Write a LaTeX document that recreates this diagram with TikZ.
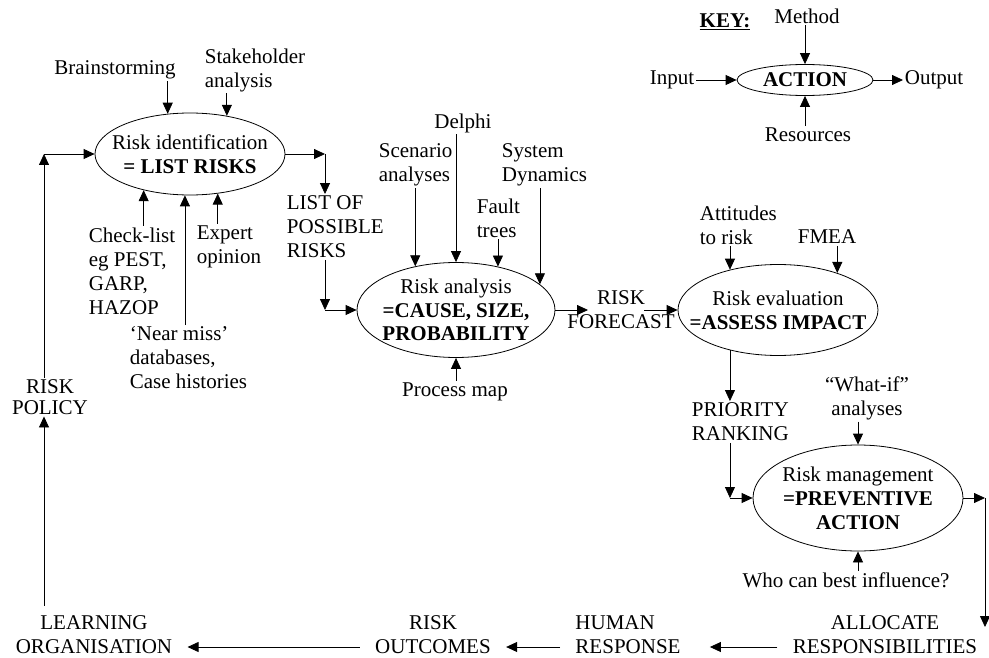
\documentclass[tikz,border=0pt]{standalone}
\usepackage{fontspec}
\setmainfont{Liberation Serif}
\usetikzlibrary{shapes.geometric, arrows.meta}

\begin{document}
\begin{tikzpicture}[x=1pt, y=-1pt, line width=0.8pt,
        >={Triangle[length=11pt, width=10pt]},
        txt/.style={inner sep=1.5pt, align=left, font=\fontsize{21}{24}\selectfont},
        stage/.style={draw, ellipse, inner sep=0pt},
        row/.style={txt, align=center, inner xsep=15pt, inner ysep=10pt}]
                \useasboundingbox (0, 0) rectangle (989, 658);
                % Corners of the connectors
                \path (44, 154) coordinate (loop);
                \path (325, 154) coordinate (c1);
                \path (325, 310) coordinate (c2);
                \path (588, 310) coordinate (fcin);
                \path (644, 310) coordinate (fcout);
                \path (985, 498) coordinate (rmout);
                \path (985, 627) coordinate (rmend);

                % Key
                \node[txt] (key) at (725, 22) {\underline{\textbf{KEY:}}};
                \node[stage, minimum width=136pt, minimum height=31pt] (act) at (805, 80) {};
                \node[txt] (acttext) at (act) {\textbf{ACTION}};
                \node[txt] (method) at (807, 16) {Method};
                \node[txt] (input) at (672, 80) {Input};
                \node[txt, anchor=west] (output) at (903, 80) {Output};
                \node[txt] (resources) at (808, 135) {Resources};
                \draw[->] (act.north |- method.south) -- (act.north);
                \draw[->] (input.east) -- (act.west);
                \draw[->] (act.east) -- (output.west);
                \draw[->] (resources.north -| act.south) -- (act.south);

                % Risk identification
                \node[stage, minimum width=190pt, minimum height=82pt] (rid) at (190, 154) {};
                \node[txt, align=center] (ridtext) at (rid) {Risk identification\\\textbf{= LIST RISKS}};
                \node[txt] (brain) at (115, 70) {Brainstorming};
                \node[txt, anchor=west] (stake) at (203, 70) {Stakeholder\\analysis};
                \node[txt, anchor=west] (check) at (87, 271) {Check-list\\eg PEST,\\GARP,\\HAZOP};
                \node[txt, anchor=west] (expert) at (195, 247) {Expert\\opinion};
                \node[txt, anchor=west] (nearmiss) at (128, 358) {‘Near miss’\\databases,\\Case histories};
                \draw[->] (rid.119 |- brain.south) -- (rid.119);
                \draw[->] (rid.46 |- stake.south) -- (rid.46);
                \draw[->] (rid.-142 |- check.north) -- (rid.-142);
                \draw[->] (rid.-97 |- nearmiss.north) -- (rid.-97);
                \draw[->] (rid.-55 |- expert.north) -- (rid.-55);

                % Risk policy loop
                \node[txt, align=center, font=\fontsize{21}{21}\selectfont] (policy) at (50, 397) {RISK\\POLICY};
                \draw[->] (policy.north -| loop) -- (loop);
                \draw[->] (loop) -- (rid.west);

                % List of possible risks
                \node[txt, anchor=west] (possible) at (285, 227) {LIST OF\\POSSIBLE\\RISKS};
                \draw[->] (rid.east) -- (c1);
                \draw[->] (c1) -- (c1 |- possible.north);
                \draw[->] (c1 |- possible.south) -- (c2);

                % Risk analysis
                \node[stage, minimum width=198pt, minimum height=95pt] (ra) at (456, 310) {};
                \node[txt, align=center, font=\fontsize{21}{23.5}\selectfont] (ratext) at (ra) {Risk analysis\\\textbf{=CAUSE, SIZE,}\\\textbf{PROBABILITY}};
                \node[txt] (delphi) at (463, 123) {Delphi};
                \node[txt, anchor=west] (scenario) at (377, 165) {Scenario\\analyses};
                \node[txt, anchor=west] (fault) at (475, 218) {Fault\\trees};
                \node[txt, anchor=west] (sysdyn) at (500, 165) {System\\Dynamics};
                \node[txt] (process) at (455, 392) {Process map};
                \draw[->] (c2) -- (ra.west);
                \draw[->] (ra.133 |- scenario.south) -- (ra.133);
                \draw[->] (ra.north |- delphi.south) -- (ra.north);
                \draw[->] (ra.46 |- fault.south) -- (ra.46);
                \draw[->] (ra.17 |- sysdyn.south) -- (ra.17);
                \draw[->] (process.north -| ra.south) -- (ra.south);

                % Risk forecast
                \node[txt, align=center] (forecast) at (621, 310) {RISK\\FORECAST};
                \draw[->] (ra.east) -- (fcin);

                % Risk evaluation
                \node[stage, minimum width=200pt, minimum height=91pt] (rev) at (778, 310) {};
                \node[txt, align=center] (revtext) at (rev) {Risk evaluation\\\textbf{=ASSESS IMPACT}};
                \node[txt, anchor=west] (attitudes) at (698, 225) {Attitudes\\to risk};
                \node[txt] (fmea) at (827, 237) {FMEA};
                \draw[->] (fcout) -- (rev.west);
                \draw[->] (rev.140 |- attitudes.south) -- (rev.140);
                \draw[->] (rev.32 |- fmea.south) -- (rev.32);

                % Risk management
                \node[stage, minimum width=210pt, minimum height=106pt] (rm) at (858, 498) {};
                \node[txt, align=center] (rmtext) at (rm) {Risk management\\\textbf{=PREVENTIVE}\\\textbf{ACTION}};
                \node[txt, align=center] (whatif) at (867, 398) {“What-if”\\analyses};
                \node[txt] (whoinfl) at (846, 580) {Who can best influence?};
                \draw[->] (rm.north |- whatif.south) -- (rm.north);
                \draw[->] (whoinfl.north -| rm.south) -- (rm.south);
                \draw[->] (rm.east) -- (rmout);
                \draw[->] (rmout) -- (rmend);

                % Priority ranking
                \node[txt, anchor=west] (priority) at (690, 422) {PRIORITY\\RANKING};
                \draw[->] (rev.-140) -- (rev.-140 |- priority.north);
                \draw[->] (rev.-140 |- priority.south) -- (rev.-140 |- rm.west);
                \draw[->] (rev.-140 |- rm.west) -- (rm.west);

                % Bottom row
                \node[row] (allocate) at (885, 635) {ALLOCATE\\RESPONSIBILITIES};
                \node[row, align=left] (human) at (628, 635) {HUMAN\\RESPONSE};
                \node[row] (outcomes) at (433, 635) {RISK\\OUTCOMES};
                \node[row] (learn) at (94, 635) {LEARNING\\ORGANISATION};
                \draw[->, shorten >=14pt] ([yshift=-12pt]allocate.west) -- ([yshift=-12pt]human.east);
                \draw[->] ([yshift=-12pt]human.west) -- ([yshift=-12pt]outcomes.east);
                \draw[->] ([yshift=-12pt]outcomes.west) -- ([yshift=-12pt]learn.east);
                \draw[->] (learn.north -| loop) -- (policy.south -| loop);
\end{tikzpicture}
\end{document}
